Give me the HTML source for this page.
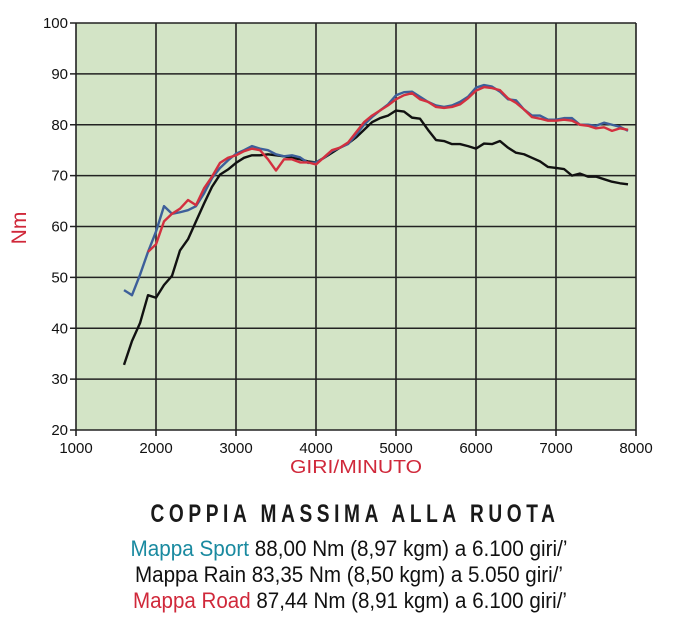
<!DOCTYPE html>
<html><head><meta charset="utf-8"><style>
body{margin:0;background:#fff;width:686px;height:631px;overflow:hidden}
svg{display:block}
text{font-family:"Liberation Sans",sans-serif}
</style></head><body>
<svg id="chart" width="686" height="631">
<rect x="76" y="23" width="560" height="407" fill="#d3e4c6"/>
<g id="grid"></g>
<g id="series"></g>
<text x="0" y="0" transform="translate(26,228) rotate(-90)" text-anchor="middle" font-size="21" fill="#d0283a">Nm</text>
<text x="356" y="473" text-anchor="middle" font-size="18" fill="#d0283a" textLength="132" lengthAdjust="spacingAndGlyphs">GIRI/MINUTO</text>
<text transform="translate(355,522) scale(0.765,1)" text-anchor="middle" font-size="25" font-weight="bold" letter-spacing="6" fill="#1a1a1a">COPPIA MASSIMA ALLA RUOTA</text>
<text x="349" y="556" text-anchor="middle" font-size="22" fill="#111" textLength="437" lengthAdjust="spacingAndGlyphs"><tspan fill="#1a8aa0">Mappa Sport</tspan> 88,00 Nm (8,97 kgm) a 6.100 giri/’</text>
<text x="349" y="582" text-anchor="middle" font-size="22" fill="#111" textLength="428" lengthAdjust="spacingAndGlyphs">Mappa Rain 83,35 Nm (8,50 kgm) a 5.050 giri/’</text>
<text x="350" y="608" text-anchor="middle" font-size="22" fill="#111" textLength="434" lengthAdjust="spacingAndGlyphs"><tspan fill="#d0283a">Mappa Road</tspan> 87,44 Nm (8,91 kgm) a 6.100 giri/’</text>
</svg>
<script>
const xTicks=[1000,2000,3000,4000,5000,6000,7000,8000];
const yTicks=[20,30,40,50,60,70,80,90,100];
const rainRpm=[1600,1700,1800,1900,2000,2100,2200,2300,2400,2500,2600,2700,2800,2900,3000,3100,3200,3300,3400,3500,3600,3700,3800,3900,4000,4100,4200,4300,4400,4500,4600,4700,4800,4900,5000,5100,5200,5300,5400,5500,5600,5700,5800,5900,6000,6100,6200,6300,6400,6500,6600,6700,6800,6900,7000,7100,7200,7300,7400,7500,7600,7700,7800,7900];
const rainNm=[32.8,37.5,41,46.5,46,48.5,50.3,55.3,57.5,61,64.5,67.8,70.2,71.2,72.5,73.5,74,74,74.2,74,73.8,73.5,73.2,72.8,72.6,73.5,74.5,75.5,76.3,77.5,79,80.5,81.3,81.8,82.8,82.6,81.4,81.2,79,77,76.8,76.2,76.2,75.8,75.3,76.3,76.2,76.8,75.5,74.5,74.2,73.5,72.8,71.7,71.5,71.3,70,70.4,69.8,69.8,69.3,68.8,68.5,68.3];
const sportRpm=rainRpm;
const sportNm=[47.5,46.5,50.5,55,59,64,62.5,62.8,63.2,64,66.5,69.5,71.5,73,74.3,75,75.8,75.3,75,74.2,73.8,74,73.6,72.5,72.6,73.5,74.8,75.5,76.2,78,80,81.5,82.8,84,85.8,86.4,86.5,85.5,84.5,83.8,83.5,83.8,84.5,85.5,87.3,87.8,87.5,86.5,85,84.8,83,81.8,81.8,81,81,81.3,81.3,80,80,79.8,80.4,80,79.6,78.8];
const roadRpm=[1900,2000,2100,2200,2300,2400,2500,2600,2700,2800,2900,3000,3100,3200,3300,3400,3500,3600,3700,3800,3900,4000,4100,4200,4300,4400,4500,4600,4700,4800,4900,5000,5100,5200,5300,5400,5500,5600,5700,5800,5900,6000,6100,6200,6300,6400,6500,6600,6700,6800,6900,7000,7100,7200,7300,7400,7500,7600,7700,7800,7900];
const roadNm=[55,56.5,61,62.5,63.5,65.2,64.2,67.5,69.8,72.5,73.5,74,74.8,75.3,75,73.2,71,73.2,73.2,72.6,72.6,72.2,73.6,75,75.5,76.5,78.5,80.5,81.8,82.8,83.8,85,85.8,86.2,85,84.5,83.5,83.3,83.5,84,85.2,86.7,87.4,87.2,86.8,85.2,84.3,83,81.5,81.2,80.8,80.8,81,80.8,80,79.8,79.3,79.5,78.8,79.3,79];
const NS='http://www.w3.org/2000/svg';
const X=v=>76+(v-1000)*560/7000;
const Y=v=>430-(v-20)*407/80;
const grid=document.getElementById('grid');
function mk(t,a,p){const e=document.createElementNS(NS,t);for(const k in a)e.setAttribute(k,a[k]);p.appendChild(e);return e;}
xTicks.forEach(t=>{
 const l=mk('line',{x1:X(t),x2:X(t),y1:23,y2:436,stroke:'#222','stroke-width':1.6},grid);
 
 
 const tx=mk('text',{x:X(t),y:453,'text-anchor':'middle','font-size':15,fill:'#111'},grid);
 tx.textContent=t;
 
 
});
yTicks.forEach(t=>{
 const l=mk('line',{x1:70,x2:636,y1:Y(t),y2:Y(t),stroke:'#222','stroke-width':1.6},grid);
 
 
 const tx=mk('text',{x:68,y:Y(t)+5,'text-anchor':'end','font-size':15,fill:'#111'},grid);
 tx.textContent=t;
 
 
});
const sg=document.getElementById('series');
function line(xs,ys,c,name){
 const p=mk('polyline',{points:xs.map((x,i)=>X(x)+','+Y(ys[i])).join(' '),fill:'none',stroke:c,'stroke-width':2.4,'stroke-linejoin':'round'},sg);
 
 
}
line(rainRpm,rainNm,'#111','rain-line');
line(sportRpm,sportNm,'#3d5f9a','sport-line');
line(roadRpm,roadNm,'#d3303f','road-line');
</script>
</body></html>
